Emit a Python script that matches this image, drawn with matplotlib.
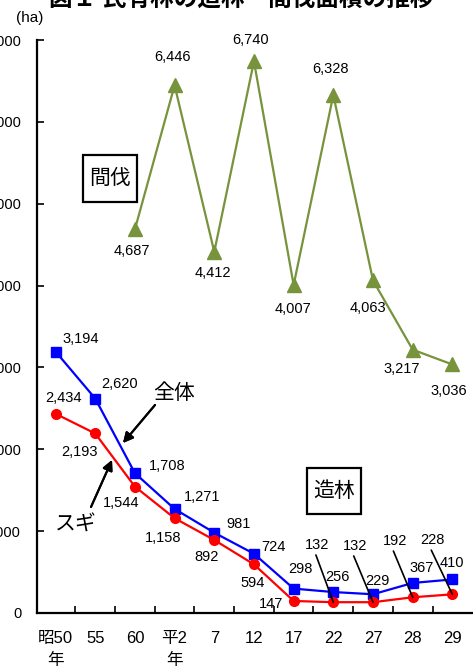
import matplotlib
matplotlib.use("Agg")
import matplotlib.pyplot as plt
from matplotlib.patches import Rectangle

plt.rcParams["font.family"] = ["Liberation Sans", "Noto Sans CJK JP"]

# ── Data ─────────────────────────────────────────────────────────────────────
years = ["昭50\n年", "55", "60", "平2\n年", "7", "12", "17", "22", "27", "28", "29"]
total = [3194, 2620, 1708, 1271, 981, 724, 298, 256, 229, 367, 410]      # 造林 全体
sugi = [2434, 2193, 1544, 1158, 892, 594, 147, 132, 132, 192, 228]       # 造林 スギ
thinning_idx = [2, 3, 4, 5, 6, 7, 8, 9, 10]                               # 60年〜
thinning = [4687, 6446, 4412, 6740, 4007, 6328, 4063, 3217, 3036]         # 間伐

# label offsets (pixels) from each point
total_off = [(25, 13), (24, 15), (32, 7), (28, 12), (24, 9), (19, 7),
             (7, 20), (4, 15), (4, 13), (9, 15), (0, 16)]
sugi_off = [(8, 16), (-16, -19), (-14, -16), (-11, -20), (-8, -17), (-1, -19),
            (-23, -3), (-16, 57), (-18, 56), (-18, 56), (-20, 54)]
thin_off = [(-3, -22), (-2, 28), (-1, -21), (-3, 21), (-1, -24), (-3, 26),
            (-5, -28), (-11, -19), (-4, -27)]
leader = [7, 8, 9, 10]  # sugi labels drawn with a leader line

W, H = 473, 671


def fxy(px, py):
    return px / W, 1 - py / H


fig = plt.figure(figsize=(W / 100, H / 100), dpi=100)
ax = fig.add_axes([36.5 / W, 58 / H, (W - 36.5) / W, 573 / H])

x = list(range(len(years)))
green = "#77933C"
ax.plot(x, total, color="#0000FF", lw=1.6, marker="s", ms=7, zorder=3)
ax.plot(x, sugi, color="#FF0000", lw=1.6, marker="o", ms=7, zorder=3)
ax.plot(thinning_idx, thinning, color=green, lw=1.6, marker="^", ms=10, zorder=3)

lab_kw = dict(textcoords="offset pixels", ha="center", va="center", fontsize=10.5)
for i, v in enumerate(total):
    ax.annotate(f"{v:,}", (i, v), xytext=total_off[i], **lab_kw)
for i, v in enumerate(sugi):
    if i in leader:
        ax.annotate(f"{v:,}", (i, v), xytext=sugi_off[i],
                    arrowprops=dict(arrowstyle="-", color="black", lw=1.2,
                                    shrinkA=0, shrinkB=0, relpos=(0.4, 0)),
                    **lab_kw)
    else:
        ax.annotate(f"{v:,}", (i, v), xytext=sugi_off[i], **lab_kw)
for k, (i, v) in enumerate(zip(thinning_idx, thinning)):
    ax.annotate(f"{v:,}", (i, v), xytext=thin_off[k], **lab_kw)

# ── Axes styling ─────────────────────────────────────────────────────────────
ax.set_xlim(-0.48, 10.52)
ax.set_ylim(0, 7000)
ax.set_yticks(range(0, 7001, 1000))
ax.set_yticklabels([f"{t:,}" for t in range(0, 7001, 1000)], fontsize=10.5)
ax.set_xticks(x)
ax.set_xticklabels(years, fontsize=12, linespacing=1.6, va="top")
ax.set_xticks([i + 0.5 for i in range(len(years) - 1)], minor=True)
ax.tick_params(axis="x", which="major", length=0, pad=13)
ax.tick_params(axis="x", which="minor", direction="in", length=5, width=1.2)
ax.tick_params(axis="y", direction="in", length=5, width=1.2, pad=11)
for s in ["top", "right"]:
    ax.spines[s].set_visible(False)
for s in ["left", "bottom"]:
    ax.spines[s].set_linewidth(1.6)

# ── Titles and notes ─────────────────────────────────────────────────────────
fig.text(*fxy(241, 6), "図１ 民有林の造林・間伐面積の推移", ha="center",
         va="baseline", fontsize=17, fontweight="bold")
fig.text(*fxy(30, 18), "(ha)", ha="center", va="center", fontsize=11)

for (x0, y0, w, h), label in [((83, 155, 54, 47), "間伐"), ((307, 468, 54, 46), "造林")]:
    fig.add_artist(Rectangle(fxy(x0, y0 + h), w / W, h / H, transform=fig.transFigure,
                             facecolor="white", edgecolor="black", lw=1.6))
    fig.text(*fxy(x0 + w / 2, y0 + h / 2), label, ha="center", va="center", fontsize=15)

fig.text(*fxy(174, 393), "全体", ha="center", va="center", fontsize=15)
fig.text(*fxy(76, 525), "スギ", ha="center", va="center", fontsize=15)
arrow_kw = dict(arrowstyle="-|>", color="black", lw=1.5, mutation_scale=15,
                shrinkA=0, shrinkB=0)
fig.add_artist(plt.annotate("", xy=fxy(123, 443), xytext=fxy(155, 405),
                            xycoords="figure fraction", arrowprops=arrow_kw))
fig.add_artist(plt.annotate("", xy=fxy(112, 460), xytext=fxy(91, 507),
                            xycoords="figure fraction", arrowprops=arrow_kw))

plt.savefig("out.png", dpi=100)
print("Saved: out.png")
